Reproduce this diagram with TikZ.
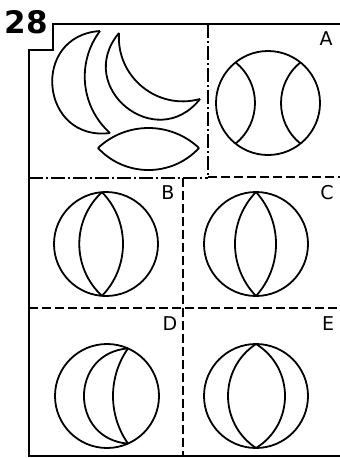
\documentclass[tikz,border=0pt]{standalone}
\usepackage{fontspec}
\newfontfamily\labfont{DejaVu Sans}
\usetikzlibrary{calc}
\tikzset{
  shapeline/.style={line width=1.8pt, line join=round},
  frameline/.style={line width=1.5pt},
  dashline/.style={line width=1.3pt, dash pattern=on 9pt off 4pt},
  dotdashline/.style={line width=1.3pt, dash pattern=on 14pt off 3pt on 2pt off 3pt},
  lab/.style={font=\labfont\fontsize{19}{19}\selectfont, inner sep=0pt},
  numlab/.style={font=\labfont\bfseries\fontsize{31}{31}\selectfont, inner sep=0pt}
}
% arc from #1 to #2, signed ratio #3 = 2*sagitta/chord (positive bulges to the left of travel)
\newcommand\arcthru[3]{%
  \pgfmathsetmacro\arcang{2*atan(#3)}%
  \pgfmathsetmacro\arcangn{-2*atan(#3)}%
  \pgfmathsetmacro\arcf{(1+(#3)*(#3))/3}%
  \draw[shapeline] (#1) .. controls ($(#1)!\arcf!\arcang:(#2)$) and ($(#2)!\arcf!\arcangn:(#1)$) .. (#2);%
}
\begin{document}
\begin{tikzpicture}[x=1pt,y=-1pt]
\useasboundingbox (0,0) rectangle (340,458);
% number
\node[numlab] (num) at (26,22) {28};
% frame
\coordinate (f1) at (53,24); \coordinate (f2) at (340,24);
\coordinate (f3) at (53,50); \coordinate (f4) at (29,50);
\coordinate (f5) at (29,456); \coordinate (f6) at (340,456);
\draw[frameline] (f2) -- (f1) -- (f3) -- (f4) -- (f5) -- (f6);
\coordinate (v1) at (208,24); \coordinate (v2) at (208,177);
\draw[dotdashline] (v1) -- (v2);
\coordinate (h1) at (29,178); \coordinate (h2) at (208,178);
\draw[dotdashline] (h1) -- (h2);
\coordinate (h3) at (340,177);
\draw[dashline] (v2) -- (h3);
\coordinate (m1) at (183,178); \coordinate (m2) at (183,456);
\draw[dashline] (m1) -- (m2);
\coordinate (g1) at (29,308); \coordinate (g2) at (340,308);
\draw[dashline] (g1) -- (g2);
% labels
\node[lab] (la) at (326,39) {A};
\node[lab] (lb) at (168,193) {B};
\node[lab] (lc) at (327,193) {C};
\node[lab] (ld) at (170,324) {D};
\node[lab] (le) at (328,324) {E};
% top-left pieces
\coordinate (c1t) at (100,31); \coordinate (c1b) at (110,133);
\arcthru{c1t}{c1b}{-1.03}
\arcthru{c1t}{c1b}{-0.39}
\coordinate (c2t) at (119,33); \coordinate (c2r) at (200,99);
\arcthru{c2t}{c2r}{-1.014}
\arcthru{c2t}{c2r}{-0.517}
\coordinate (l1) at (98,148); \coordinate (l2) at (199,148);
\arcthru{l1}{l2}{0.396}
\arcthru{l1}{l2}{-0.436}
% A
\coordinate (ca) at (268,103);
\draw[shapeline] (ca) circle[radius=52];
\coordinate (a1) at (235.5,62.4); \coordinate (a2) at (235.5,143.6);
\coordinate (a3) at (300.5,62.4); \coordinate (a4) at (300.5,143.6);
\arcthru{a1}{a2}{0.48}
\arcthru{a3}{a4}{-0.48}
% B
\coordinate (cb) at (106,244);
\draw[shapeline] (cb) circle[radius=52];
\coordinate (b1) at (102,192.15); \coordinate (b2) at (102,295.85);
\arcthru{b1}{b2}{-0.438}
\arcthru{b1}{b2}{0.405}
% C
\coordinate (cc) at (256,244);
\draw[shapeline] (cc) circle[radius=52];
\coordinate (c1) at (256,192); \coordinate (c2) at (256,296);
\arcthru{c1}{c2}{-0.404}
\arcthru{c1}{c2}{0.385}
% D
\coordinate (cd) at (107,396);
\draw[shapeline] (cd) circle[radius=52];
\coordinate (d1) at (128,348.4); \coordinate (d2) at (128,443.6);
\arcthru{d1}{d2}{-0.925}
\arcthru{d1}{d2}{-0.315}
% E
\coordinate (ce) at (256,396);
\draw[shapeline] (ce) circle[radius=52];
\coordinate (e1) at (256,344); \coordinate (e2) at (256,448);
\arcthru{e1}{e2}{-0.538}
\arcthru{e1}{e2}{0.558}
\end{tikzpicture}
\end{document}
